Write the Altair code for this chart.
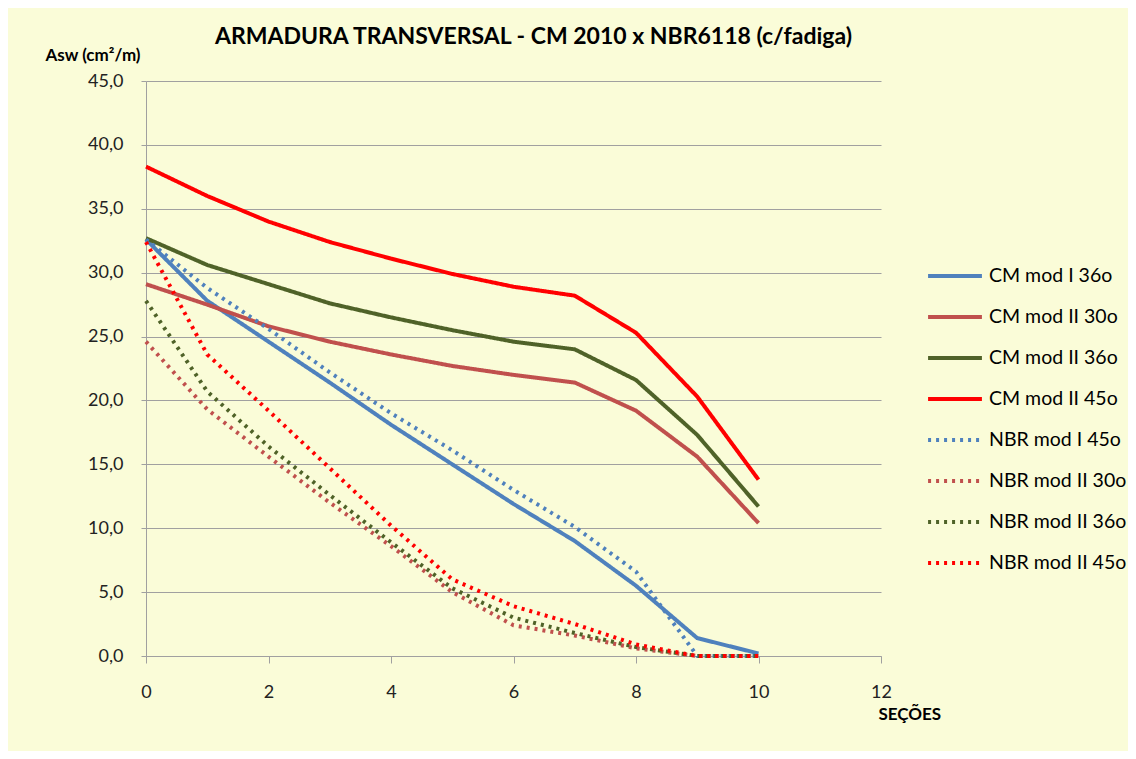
import altair as alt
import pandas as pd

secoes = list(range(11))

series_names = [
    "CM mod I 36o",
    "CM mod II 30o",
    "CM mod II 36o",
    "CM mod II 45o",
    "NBR mod I 45o",
    "NBR mod II 30o",
    "NBR mod II 36o",
    "NBR mod II 45o",
]

cm1_36 = [32.6, 27.8, 24.6, 21.4, 18.1, 15.0, 11.9, 9.0, 5.5, 1.4, 0.2]
cm2_30 = [29.1, 27.5, 25.8, 24.6, 23.6, 22.7, 22.0, 21.4, 19.2, 15.6, 10.4]
cm2_36 = [32.7, 30.6, 29.1, 27.6, 26.5, 25.5, 24.6, 24.0, 21.6, 17.3, 11.7]
cm2_45 = [38.3, 36.0, 34.0, 32.4, 31.1, 29.9, 28.9, 28.2, 25.3, 20.3, 13.8]
nbr1_45 = [32.6, 28.8, 25.6, 22.2, 19.0, 16.1, 13.0, 10.1, 6.6, 0.0, 0.0]
nbr2_30 = [24.6, 19.3, 15.6, 12.0, 8.6, 5.0, 2.4, 1.6, 0.6, 0.0, 0.0]
nbr2_36 = [27.8, 20.7, 16.4, 12.6, 8.9, 5.3, 3.0, 1.8, 0.7, 0.0, 0.0]
nbr2_45 = [32.4, 23.6, 19.2, 14.7, 10.2, 6.0, 3.9, 2.5, 0.9, 0.0, 0.0]

all_values = [cm1_36, cm2_30, cm2_36, cm2_45, nbr1_45, nbr2_30, nbr2_36, nbr2_45]

colors = ["#4F81BD", "#C0504D", "#4F6228", "#FF0000",
          "#4F81BD", "#C0504D", "#4F6228", "#FF0000"]
dashes = [[1, 0]] * 4 + [[3, 5]] * 4
widths = [4] * 4 + [3] * 4

x_ticks = [0, 2, 4, 6, 8, 10, 12]
y_ticks = [0, 5, 10, 15, 20, 25, 30, 35, 40, 45]

rows = []
for name, vals in zip(series_names, all_values):
    for s, v in zip(secoes, vals):
        rows.append({"serie": name, "secao": s, "asw": v})
df = pd.DataFrame(rows)

FONT = "Lato"
GRAY = "#A0A0A0"

legend_cfg = dict(
    title=None,
    orient="none",
    legendX=780,
    legendY=166,
    symbolType="stroke",
    symbolSize=2900,
    labelFontSize=19.5,
    labelFont=FONT,
    labelColor="#000000",
    labelOffset=5,
    rowPadding=2,
    labelLimit=300,
)

chart = alt.Chart(df).mark_line(interpolate="linear", strokeJoin="round").encode(
    x=alt.X(
        "secao:Q",
        scale=alt.Scale(domain=[0, 12], nice=False, zero=False),
        axis=alt.Axis(
            values=x_ticks,
            title="SEÇÕES",
            titleAngle=0,
            titleX=732,
            titleY=58,
            titleAlign="left",
            titleBaseline="middle",
            titleFontSize=17,
            titleFontWeight="bold",
            titleFont=FONT,
            titleColor="#000000",
            grid=False,
            tickSize=7,
            labelPadding=20,
            labelFlush=False,
            labelFontSize=18,
            labelFont=FONT,
            labelColor="#222222",
        ),
    ),
    y=alt.Y(
        "asw:Q",
        scale=alt.Scale(domain=[0, 45], nice=False),
        axis=alt.Axis(
            values=y_ticks,
            labelExpr="replace(format(datum.value, '.1f'), '.', ',')",
            title="Asw (cm²/m)",
            titleAngle=0,
            titleX=-101,
            titleY=-26,
            titleAlign="left",
            titleBaseline="middle",
            titleFontSize=17,
            titleFontWeight="bold",
            titleFont=FONT,
            titleColor="#000000",
            grid=True,
            gridColor=GRAY,
            tickSize=5,
            labelPadding=18,
            labelFlush=False,
            labelFontSize=18,
            labelFont=FONT,
            labelColor="#222222",
        ),
    ),
    color=alt.Color("serie:N", scale=alt.Scale(domain=series_names, range=colors),
                    legend=alt.Legend(**legend_cfg)),
    strokeDash=alt.StrokeDash("serie:N", scale=alt.Scale(domain=series_names, range=dashes),
                              legend=alt.Legend(**legend_cfg)),
    strokeWidth=alt.StrokeWidth("serie:N", scale=alt.Scale(domain=series_names, range=widths),
                                legend=alt.Legend(**legend_cfg)),
    order=alt.Order("secao:Q"),
).properties(
    width=735,
    height=575,
    autosize=alt.AutoSizeParams(type="none"),
    padding={"left": 138, "top": 73, "right": 247, "bottom": 95},
    background="#FAFCD8",
    title=alt.TitleParams(
        "ARMADURA TRANSVERSAL - CM 2010 x NBR6118 (c/fadiga)",
        anchor="middle",
        dx=20,
        dy=29,
        offset=26,
        fontSize=23,
        fontWeight="bold",
        font=FONT,
        color="#000000",
    ),
).configure_view(stroke=None).configure_axis(
    domainColor=GRAY, tickColor=GRAY
)

chart.save("out.html", embed_options={"renderer": "svg", "actions": False})
